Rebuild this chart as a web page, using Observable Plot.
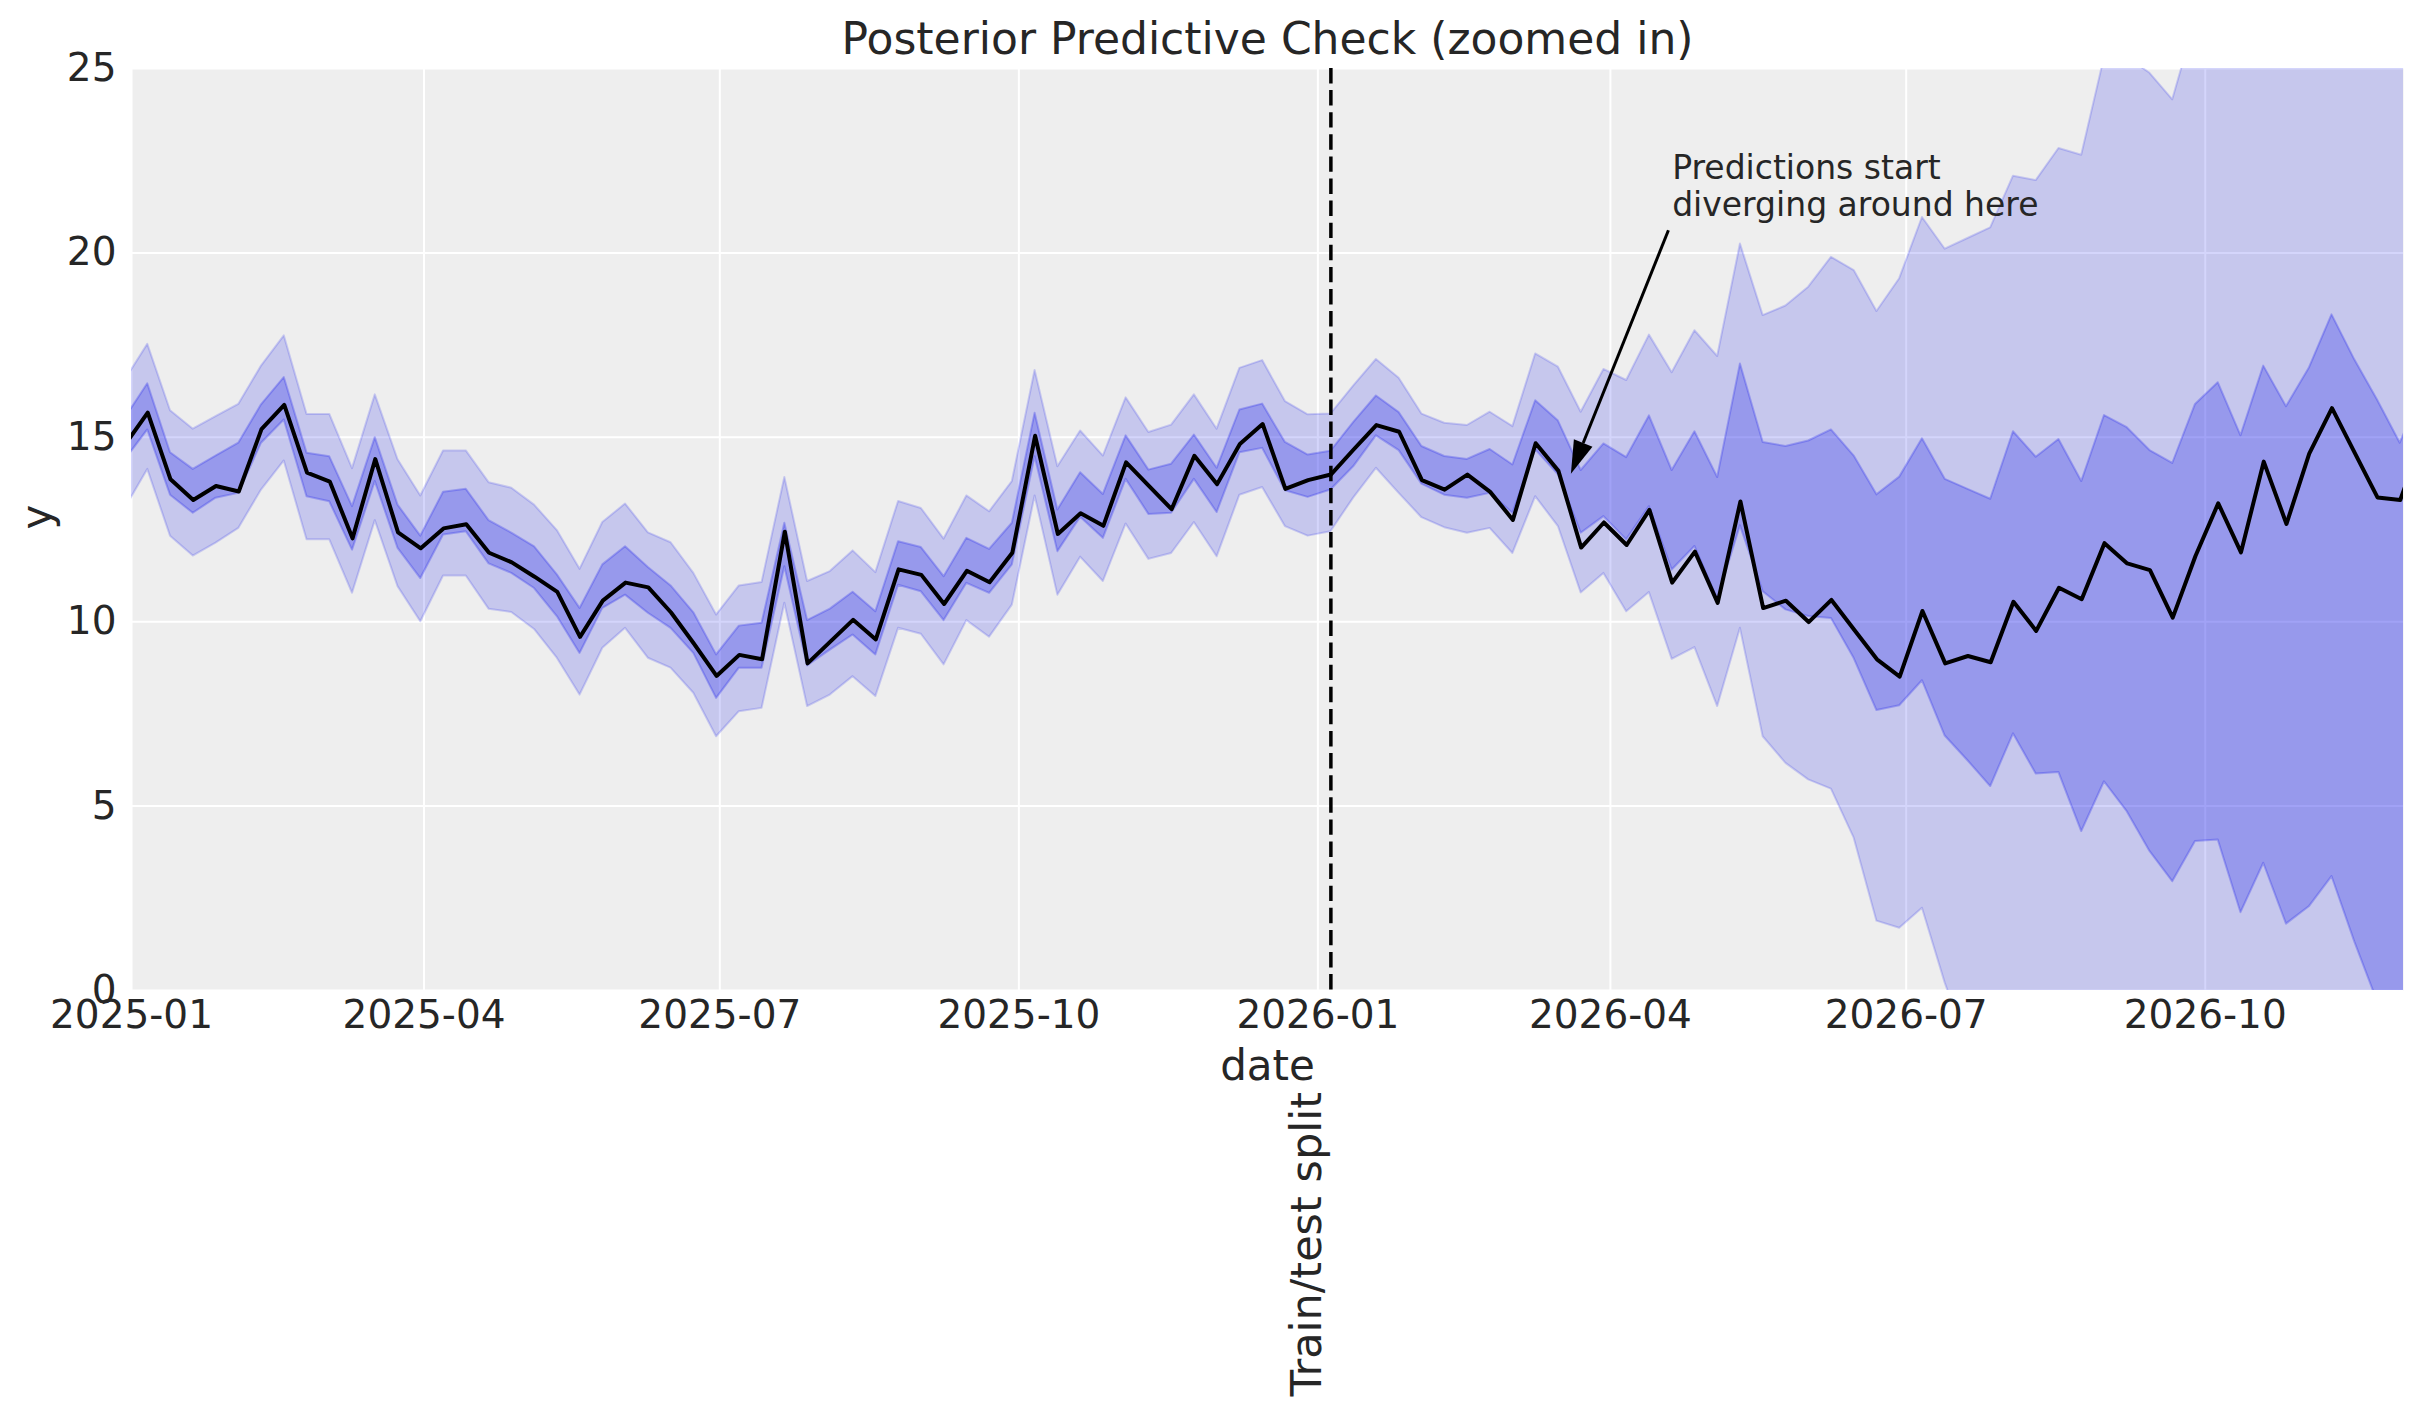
<!DOCTYPE html>
<html>
<head>
<meta charset="utf-8">
<script src="https://cdn.jsdelivr.net/npm/d3@7"></script>
<script src="https://cdn.jsdelivr.net/npm/@observablehq/plot@0.6"></script>
<style>
  html, body { margin: 0; padding: 0; background: #ffffff; overflow: hidden; }
</style>
</head>
<body>
<div id="chart"></div>
<script>
// Weekly posterior predictive check: observed series with 50% and 94% HDI bands.
const firstWeek = "2024-12-30";
const lastWeek = "2026-12-07";
const splitDate = "2026-01-05";

const observed = [
  14.80, 15.67, 13.86, 13.30, 13.68, 13.53, 15.22, 15.88, 14.04, 13.80,
  12.26, 14.41, 12.42, 11.99, 12.53, 12.64, 11.87, 11.61, 11.22, 10.81,
  9.59, 10.57, 11.06, 10.93, 10.25, 9.41, 8.53, 9.10, 8.98, 12.44,
  8.87, 9.46, 10.05, 9.52, 11.42, 11.27, 10.48, 11.38, 11.07, 11.87,
  15.04, 12.38, 12.94, 12.60, 14.32, 13.68, 13.05, 14.50, 13.73, 14.82,
  15.36, 13.60, 13.84, 13.99, 14.67, 15.33, 15.15, 13.84, 13.58, 13.99,
  13.52, 12.76, 14.84, 14.09, 12.01, 12.69, 12.08, 13.03, 11.06, 11.90,
  10.51, 13.26, 10.37, 10.57, 9.99, 10.59, 9.78, 8.98, 8.51, 10.29,
  8.87, 9.07, 8.90, 10.54, 9.75, 10.92, 10.61, 12.13, 11.58, 11.40,
  10.11, 11.78, 13.21, 11.88, 14.34, 12.65, 14.56, 15.79, 14.58, 13.37,
  13.30, 15.00
];

// 50% HDI
const innerLow = [
  14.38, 15.20, 13.43, 12.94, 13.35, 13.48, 14.84, 15.47, 13.39, 13.25,
  11.94, 13.80, 11.99, 11.17, 12.35, 12.44, 11.57, 11.31, 10.90, 10.14,
  9.14, 10.36, 10.72, 10.23, 9.82, 9.14, 7.92, 8.74, 8.74, 11.49,
  8.80, 9.23, 9.64, 9.10, 10.99, 10.81, 10.03, 11.04, 10.77, 11.54,
  14.47, 11.90, 12.83, 12.26, 13.86, 12.91, 12.94, 13.86, 12.96, 14.58,
  14.70, 13.55, 13.37, 13.57, 14.20, 15.04, 14.64, 13.73, 13.43, 13.35,
  13.48, 12.94, 14.66, 13.98, 12.40, 12.85, 12.22, 13.12, 11.40, 12.04,
  10.60, 12.60, 10.81, 10.32, 10.14, 10.09, 9.00, 7.59, 7.72, 8.40,
  6.90, 6.23, 5.53, 6.96, 5.87, 5.91, 4.31, 5.66, 4.85, 3.77,
  2.95, 4.04, 4.08, 2.11, 3.45, 1.80, 2.27, 3.09, 1.32, -0.30,
  -1.60, -0.80
];
const innerHigh = [
  15.51, 16.45, 14.58, 14.13, 14.49, 14.84, 15.88, 16.62, 14.57, 14.47,
  13.12, 14.99, 13.16, 12.32, 13.51, 13.59, 12.74, 12.40, 12.03, 11.27,
  10.36, 11.54, 12.03, 11.47, 10.97, 10.24, 9.10, 9.88, 9.96, 12.67,
  10.03, 10.34, 10.80, 10.27, 12.17, 12.01, 11.22, 12.26, 11.96, 12.67,
  15.65, 13.03, 14.04, 13.45, 15.04, 14.11, 14.27, 15.06, 14.16, 15.74,
  15.90, 14.86, 14.52, 14.62, 15.40, 16.12, 15.67, 14.75, 14.48, 14.40,
  14.67, 14.25, 15.99, 15.44, 14.10, 14.82, 14.45, 15.58, 14.10, 15.15,
  13.91, 16.99, 14.86, 14.75, 14.90, 15.20, 14.49, 13.44, 13.92, 14.96,
  13.86, 13.59, 13.32, 15.15, 14.46, 14.94, 13.80, 15.59, 15.26, 14.64,
  14.29, 15.89, 16.48, 15.04, 16.93, 15.83, 16.87, 18.32, 17.10, 16.01,
  14.84, 16.30
];

// 94% HDI
const outerLow = [
  13.06, 14.13, 12.32, 11.78, 12.13, 12.53, 13.57, 14.36, 12.22, 12.22,
  10.77, 12.74, 10.95, 10.00, 11.24, 11.24, 10.34, 10.25, 9.79, 9.01,
  8.01, 9.28, 9.82, 9.01, 8.74, 8.06, 6.88, 7.56, 7.65, 10.50,
  7.70, 8.01, 8.51, 7.97, 9.82, 9.66, 8.83, 10.03, 9.58, 10.45,
  13.41, 10.72, 11.75, 11.09, 12.65, 11.69, 11.85, 12.69, 11.76, 13.43,
  13.64, 12.58, 12.32, 12.44, 13.35, 14.16, 13.48, 12.82, 12.55, 12.40,
  12.53, 11.85, 13.39, 12.58, 10.78, 11.31, 10.27, 10.79, 8.98, 9.30,
  7.70, 9.82, 6.88, 6.16, 5.71, 5.46, 4.13, 1.88, 1.69, 2.23,
  0.20, -1.50, -2.00, -1.20, -2.50, -2.60, -4.00, -3.00, -3.80, -5.00,
  -5.80, -4.80, -4.90, -6.80, -5.60, -7.20, -6.90, -6.20, -8.00, -9.50,
  -11.00, -10.00
];
const outerHigh = [
  16.54, 17.52, 15.72, 15.22, 15.56, 15.89, 16.93, 17.75, 15.62, 15.62,
  14.15, 16.15, 14.39, 13.41, 14.63, 14.63, 13.77, 13.62, 13.16, 12.47,
  11.42, 12.69, 13.19, 12.41, 12.14, 11.31, 10.18, 10.97, 11.06, 13.91,
  11.09, 11.36, 11.92, 11.33, 13.26, 13.07, 12.24, 13.41, 12.98, 13.80,
  16.81, 14.20, 15.17, 14.49, 16.07, 15.13, 15.33, 16.15, 15.22, 16.87,
  17.08, 15.97, 15.61, 15.63, 16.39, 17.11, 16.60, 15.63, 15.38, 15.32,
  15.68, 15.29, 17.26, 16.90, 15.68, 16.84, 16.54, 17.77, 16.75, 17.89,
  17.19, 20.24, 18.30, 18.56, 19.07, 19.88, 19.52, 18.41, 19.30, 20.96,
  20.10, 20.39, 20.68, 22.08, 21.96, 22.83, 22.65, 25.30, 25.30, 24.87,
  24.15, 26.30, 27.00, 26.20, 27.60, 26.80, 27.70, 29.00, 28.20, 27.30,
  26.00, 27.00
];

const xTickDates = ["2025-01-01", "2025-04-01", "2025-07-01", "2025-10-01", "2026-01-01", "2026-04-01", "2026-07-01", "2026-10-01"];
const yTickValues = [0, 5, 10, 15, 20, 25];
const xDomain = ["2025-01-01", "2026-12-01"];
const yDomain = [0, 25];

const annotationText = "Predictions start\ndiverging around here";
const annotationTextAt = {date: "2026-04-20", value: 21};
const arrowFrom = {date: "2026-04-19", value: 20.6};
const arrowTo = {date: "2026-03-20", value: 14.0};

const titleText = "Posterior Predictive Check (zoomed in)";

// Styling
const bandColor = "#2a2eec";
const textColor = "#262626";

const parse = (s) => new Date(s);
const weeks = d3.utcMonday.range(parse(firstWeek), d3.utcDay.offset(parse(lastWeek), 1));
const rows = weeks.map((date, i) => ({
  date,
  observed: observed[i],
  innerLow: innerLow[i],
  innerHigh: innerHigh[i],
  outerLow: outerLow[i],
  outerHigh: outerHigh[i]
}));

// Arrow with a solid triangular head, positioned through the plot's scales.
const headLength = 33;
const headHalfWidth = 10;
function filledArrow(index, scales, values) {
  const {x1: X1, y1: Y1, x2: X2, y2: Y2} = values;
  const g = d3.create("svg:g");
  for (const i of index) {
    const dx = X2[i] - X1[i], dy = Y2[i] - Y1[i];
    const len = Math.hypot(dx, dy);
    const ux = dx / len, uy = dy / len;
    const bx = X2[i] - ux * headLength, by = Y2[i] - uy * headLength;
    g.append("line")
      .attr("x1", X1[i]).attr("y1", Y1[i])
      .attr("x2", bx).attr("y2", by)
      .attr("stroke", "black").attr("stroke-width", 3);
    g.append("path")
      .attr("d", `M${X2[i]},${Y2[i]}L${bx - uy * headHalfWidth},${by + ux * headHalfWidth}L${bx + uy * headHalfWidth},${by - ux * headHalfWidth}Z`)
      .attr("fill", "black");
  }
  return g.node();
}

const chart = Plot.plot({
  width: 2423,
  height: 1424,
  marginLeft: 131,
  marginRight: 20,
  marginTop: 68,
  marginBottom: 434,
  style: {fontFamily: "DejaVu Sans", background: "#ffffff", color: textColor},
  x: {type: "utc", domain: xDomain.map(parse)},
  y: {type: "linear", domain: yDomain},
  marks: [
    Plot.frame({fill: "#eeeeee", stroke: "none"}),
    Plot.gridX(xTickDates.map(parse), {stroke: "#ffffff", strokeOpacity: 1, strokeWidth: 2}),
    Plot.gridY(yTickValues, {stroke: "#ffffff", strokeOpacity: 1, strokeWidth: 2}),
    Plot.areaY(rows, {
      x: "date", y1: "outerLow", y2: "outerHigh",
      fill: bandColor, fillOpacity: 0.2,
      stroke: bandColor, strokeOpacity: 0.2, strokeWidth: 2,
      clip: true
    }),
    Plot.areaY(rows, {
      x: "date", y1: "innerLow", y2: "innerHigh",
      fill: bandColor, fillOpacity: 0.3,
      stroke: bandColor, strokeOpacity: 0.3, strokeWidth: 2,
      clip: true
    }),
    Plot.line(rows, {x: "date", y: "observed", stroke: "black", strokeWidth: 4, clip: true}),
    Plot.ruleX([parse(splitDate)], {stroke: "black", strokeWidth: 3.5, strokeDasharray: "15.4,6.7"}),
    Plot.axisX({
      ticks: xTickDates.map(parse), tickFormat: d3.utcFormat("%Y-%m"),
      tickSize: 0, tickPadding: 10, fontSize: 39, label: null, fill: textColor
    }),
    Plot.axisY({
      ticks: yTickValues, tickSize: 0, tickPadding: 15, fontSize: 39, label: null, fill: textColor
    }),
    // Title
    Plot.text([titleText], {frameAnchor: "top", dy: -15, lineAnchor: "bottom", fontSize: 44, fill: textColor}),
    // Axis labels
    Plot.text(["date"], {frameAnchor: "bottom", dy: 89.5, lineAnchor: "bottom", fontSize: 42, fill: textColor}),
    Plot.text(["y"], {frameAnchor: "left", rotate: -90, dx: -81, lineAnchor: "bottom", fontSize: 42, fill: textColor}),
    // Train/test split label under the dashed rule
    Plot.text([{date: parse(splitDate), label: "Train/test split"}], {
      x: "date", text: "label", frameAnchor: "bottom", rotate: -90,
      textAnchor: "end", lineAnchor: "bottom", dx: -10, dy: 101.5, fontSize: 43, fill: textColor
    }),
    // Annotation
    Plot.text([{date: parse(annotationTextAt.date), value: annotationTextAt.value, label: annotationText}], {
      x: "date", y: "value", text: "label", textAnchor: "start", lineAnchor: "bottom",
      lineHeight: 1.11, fontSize: 33, fill: textColor
    }),
    Plot.arrow([{x1: parse(arrowFrom.date), y1: arrowFrom.value, x2: parse(arrowTo.date), y2: arrowTo.value}], {
      x1: "x1", y1: "y1", x2: "x2", y2: "y2", stroke: "black", strokeWidth: 3,
      render: filledArrow
    })
  ]
});

document.getElementById("chart").appendChild(chart);
</script>
</body>
</html>
